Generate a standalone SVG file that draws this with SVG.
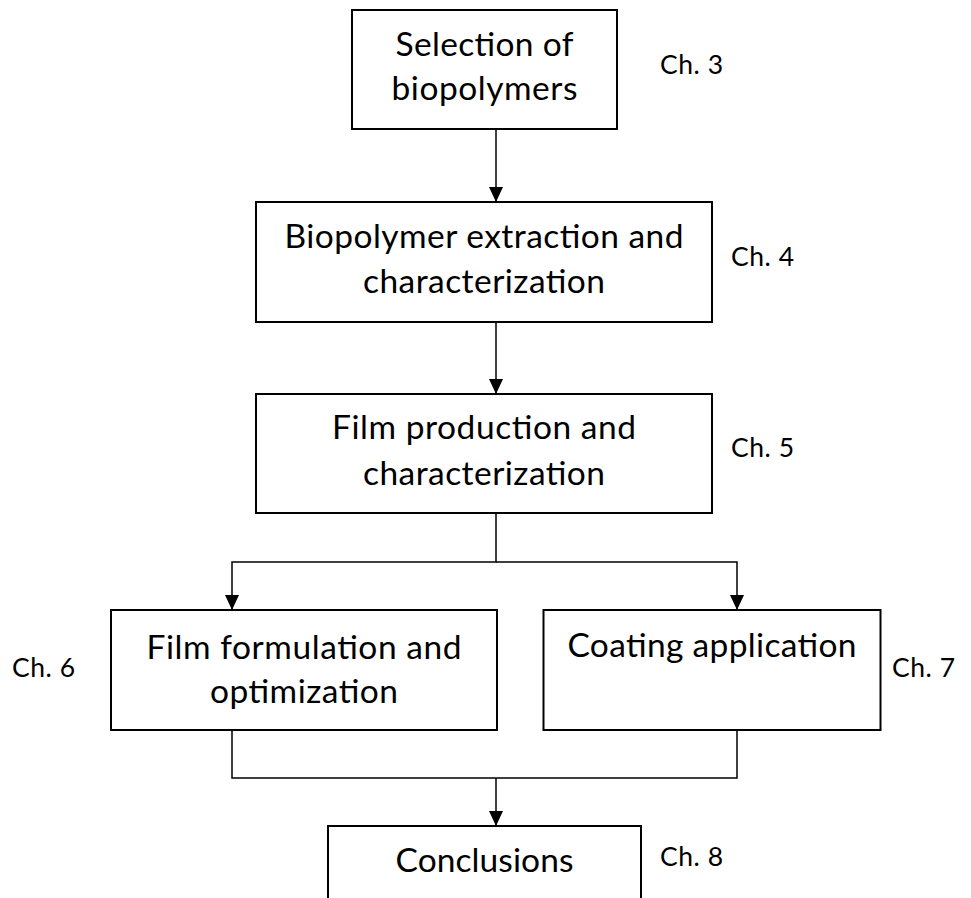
<svg xmlns="http://www.w3.org/2000/svg" width="971" height="898" viewBox="0 0 971 898">
<style>
.box{fill:#fff;stroke:#000;stroke-width:2}
.t{font-family:Lato,"Liberation Sans",sans-serif;font-size:33.5px;fill:#000;text-anchor:middle}
.ch{font-family:Lato,"Liberation Sans",sans-serif;font-size:26.5px;fill:#000}
.c{fill:none;stroke:#000;stroke-width:1.5}
.a{marker-end:url(#ah)}
</style>
<defs>
<marker id="ah" markerUnits="userSpaceOnUse" markerWidth="15" markerHeight="14" viewBox="0 0 15 14" refX="15" refY="7" orient="auto">
<path d="M0,0 L15,7 L0,14 Z" fill="#000"/>
</marker>
</defs>
<rect width="971" height="898" fill="#fff"/>
<g id="connectors">
<line class="c a" x1="496" y1="129" x2="496" y2="202"/>
<line class="c a" x1="496" y1="322" x2="496" y2="394"/>
<polyline class="c a" points="496,513 496,562 232,562 232,610"/>
<polyline class="c a" points="496,562 737,562 737,610"/>
<polyline class="c" points="232,730 232,778 737,778 737,730"/>
<line class="c a" x1="496" y1="778" x2="496" y2="826"/>
</g>
<g id="n1">
<rect class="box" x="352" y="10" width="265" height="119"/>
<text class="t" x="484.5" y="56" textLength="178">Selection of</text>
<text class="t" x="484.5" y="100" textLength="186">biopolymers</text>
</g>
<g id="n2">
<rect class="box" x="256" y="202" width="456" height="120"/>
<text class="t" x="484" y="248" textLength="399">Biopolymer extraction and</text>
<text class="t" x="484" y="293" textLength="242">characterization</text>
</g>
<g id="n3">
<rect class="box" x="256" y="394" width="456" height="119"/>
<text class="t" x="484" y="439" textLength="304">Film production and</text>
<text class="t" x="484" y="485" textLength="242">characterization</text>
</g>
<g id="n4">
<rect class="box" x="111" y="610" width="386" height="120"/>
<text class="t" x="304" y="659" textLength="315">Film formulation and</text>
<text class="t" x="304" y="703" textLength="188">optimization</text>
</g>
<g id="n5">
<rect class="box" x="543.5" y="610" width="337" height="120"/>
<text class="t" x="712" y="657" textLength="289">Coating application</text>
</g>
<g id="n6">
<rect class="box" x="328" y="826" width="313" height="80"/>
<text class="t" x="484.5" y="872" textLength="178">Conclusions</text>
</g>
<g id="labels">
<text class="ch" x="660" y="74" textLength="63">Ch. 3</text>
<text class="ch" x="731" y="266" textLength="63">Ch. 4</text>
<text class="ch" x="731" y="457" textLength="63">Ch. 5</text>
<text class="ch" x="12" y="677" textLength="63">Ch. 6</text>
<text class="ch" x="892" y="677" textLength="63">Ch. 7</text>
<text class="ch" x="660" y="866" textLength="63">Ch. 8</text>
</g>
</svg>
